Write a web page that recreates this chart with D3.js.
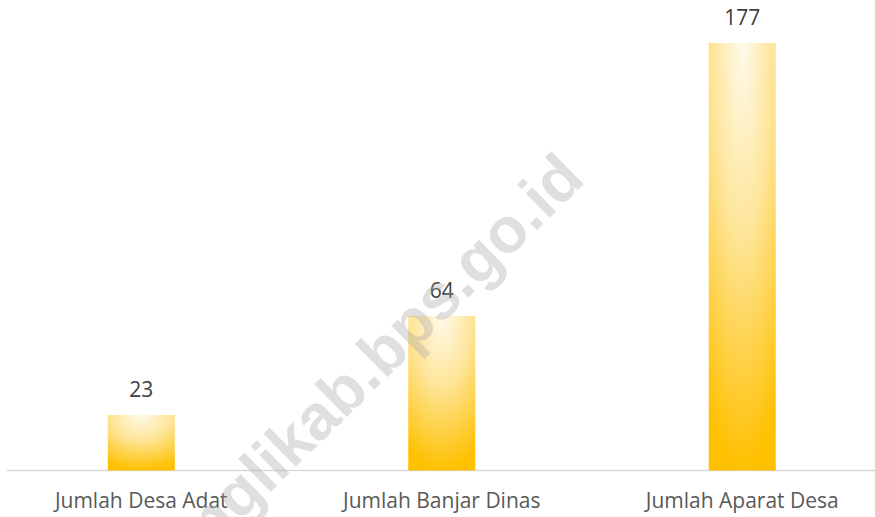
<!DOCTYPE html>
<html>
<head>
<meta charset="utf-8">
<script src="https://cdn.jsdelivr.net/npm/d3@7"></script>
<style>
  body { margin: 0; background: #fff; }
  svg { display: block; }
</style>
</head>
<body>
<div id="chart"></div>
<script>
// categories and values
var categories = ['Jumlah Desa Adat', 'Jumlah Banjar Dinas', 'Jumlah Aparat Desa'];
var values = [23, 64, 177];
var watermark = 'banglikab.bps.go.id';

var width = 875, height = 517;
var baseY = 470.5;

var svg = d3.select('#chart')
            .append('svg')
            .attr('width', width)
            .attr('height', height);

var xScale = d3.scaleBand()
                .domain(categories)
                .range([-9, 892.5])
                .paddingInner(0.777)
                .paddingOuter(0.3885);

var yScale = d3.scaleLinear()
                .domain([0, 177])
                .range([baseY, 43]);

// gradient like the excel "from top" radial fill
var defs = svg.append('defs');
var grad = defs.append('radialGradient')
    .attr('id', 'goldFill')
    .attr('cx', '50%').attr('cy', '0%')
    .attr('fx', '50%').attr('fy', '0%')
    .attr('r', '100%');
grad.append('stop').attr('offset', '0%').attr('stop-color', '#fffaeb');
grad.append('stop').attr('offset', '45%').attr('stop-color', '#fee599');
grad.append('stop').attr('offset', '100%').attr('stop-color', '#ffc000');

// axis line
svg.append('line')
    .attr('x1', 7).attr('x2', width)
    .attr('y1', baseY).attr('y2', baseY)
    .attr('stroke', '#d9d9d9')
    .attr('stroke-width', 1.5);

svg.selectAll('rect.bar')
    .data(values)
    .enter()
    .append('rect')
    .attr('class', 'bar')
    .attr('x', function(d, i) { return xScale(categories[i]); })
    .attr('width', xScale.bandwidth())
    .attr('y', function(d) { return yScale(d); })
    .attr('height', function(d) { return baseY - yScale(d); })
    .attr('fill', 'url(#goldFill)');

// value labels
svg.selectAll('text.val')
    .data(values)
    .enter()
    .append('text')
    .attr('class', 'val')
    .attr('x', function(d, i) { return xScale(categories[i]) + xScale.bandwidth() / 2; })
    .attr('y', function(d) { return yScale(d) - 18; })
    .attr('text-anchor', 'middle')
    .style('font-family', '"Open Sans", sans-serif')
    .style('font-size', '21px')
    .style('fill', '#404040')
    .text(function(d) { return d; });

// category labels
svg.selectAll('text.cat')
    .data(categories)
    .enter()
    .append('text')
    .attr('class', 'cat')
    .attr('x', function(d) { return xScale(d) + xScale.bandwidth() / 2; })
    .attr('y', 508)
    .attr('text-anchor', 'middle')
    .style('font-family', '"Open Sans", sans-serif')
    .style('font-size', '21px')
    .style('fill', '#595959')
    .text(function(d) { return d; });

// watermark over everything
svg.append('text')
    .attr('transform', 'translate(587,181) rotate(-44.5)')
    .attr('text-anchor', 'end')
    .style('font-family', '"Liberation Sans", sans-serif')
    .style('font-weight', 'bold')
    .style('font-size', '64px')
    .style('fill', '#a6a6a6')
    .style('fill-opacity', 0.36)
    .text(watermark);
</script>
</body>
</html>
